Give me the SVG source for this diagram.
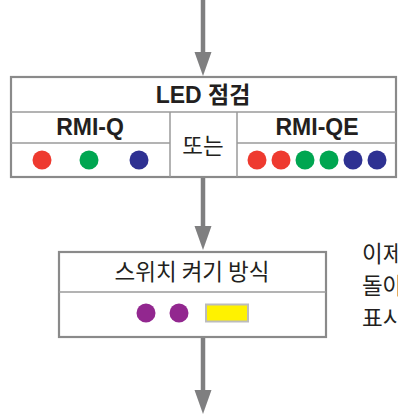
<svg xmlns="http://www.w3.org/2000/svg" width="398" height="416" viewBox="0 0 398 416">
<style>
.box{fill:#fff;stroke:#8a8a8a;stroke-width:2.2}
.ln{stroke:#9a9a9a;stroke-width:1.5;fill:none}
.conn{stroke:#7f7f80;stroke-width:4.5;fill:none}
.head{fill:#7f7f80}
.b{font-family:"Liberation Sans","Noto Sans CJK KR",sans-serif;font-weight:bold;fill:#231f20;text-anchor:middle;font-size:23px}
.t{font-family:"Noto Sans CJK KR","Liberation Sans",sans-serif;fill:#231f20;font-size:22.5px}
.r{fill:#ee3a2f}.g{fill:#00a651}.bl{fill:#2e3192}.p{fill:#92278f}
</style>
<g id="connectors">
<line class="conn" x1="203" y1="0" x2="203" y2="55"/>
<polygon class="head" points="194.5,52 211.5,52 203,76"/>
<line class="conn" x1="203" y1="178" x2="203" y2="228"/>
<polygon class="head" points="194.5,226 211.5,226 203,250"/>
<line class="conn" x1="203" y1="338" x2="203" y2="392"/>
<polygon class="head" points="194.5,390 211.5,390 203,414"/>
</g>
<g id="led-check">
<rect class="box" x="11" y="77" width="385" height="100"/>
<line class="ln" x1="11" y1="112" x2="396" y2="112"/>
<line class="ln" x1="11" y1="143" x2="170" y2="143"/>
<line class="ln" x1="237" y1="143" x2="396" y2="143"/>
<line class="ln" x1="170" y1="112" x2="170" y2="177"/>
<line class="ln" x1="237" y1="112" x2="237" y2="177"/>
<text class="b" x="203" y="103">LED 점검</text>
<text class="b" x="90" y="135">RMI-Q</text>
<text class="b" x="317" y="135">RMI-QE</text>
<text class="t" x="203" y="154" text-anchor="middle">또는</text>
<circle class="r" cx="42" cy="160" r="9.5"/>
<circle class="g" cx="89" cy="160" r="9.5"/>
<circle class="bl" cx="139" cy="160" r="9.5"/>
<circle class="r" cx="257" cy="160" r="9.5"/>
<circle class="r" cx="281" cy="160" r="9.5"/>
<circle class="g" cx="305" cy="160" r="9.5"/>
<circle class="g" cx="329" cy="160" r="9.5"/>
<circle class="bl" cx="353" cy="160" r="9.5"/>
<circle class="bl" cx="377" cy="160" r="9.5"/>
</g>
<g id="switch-mode">
<rect class="box" x="59" y="252" width="267" height="85"/>
<line class="ln" x1="59" y1="292" x2="326" y2="292"/>
<text class="t" x="192" y="280" text-anchor="middle">스위치 켜기 방식</text>
<circle class="p" cx="146" cy="313" r="9.5"/>
<circle class="p" cx="179" cy="313" r="9.5"/>
<rect x="206" y="304.5" width="42" height="17" fill="#fff200" stroke="#bcbcbc" stroke-width="2"/>
</g>
<g id="side-text">
<text class="t" x="362" y="262">이제</text>
<text class="t" x="362" y="294">돌아</text>
<text class="t" x="362" y="326">표시</text>
</g>
</svg>
